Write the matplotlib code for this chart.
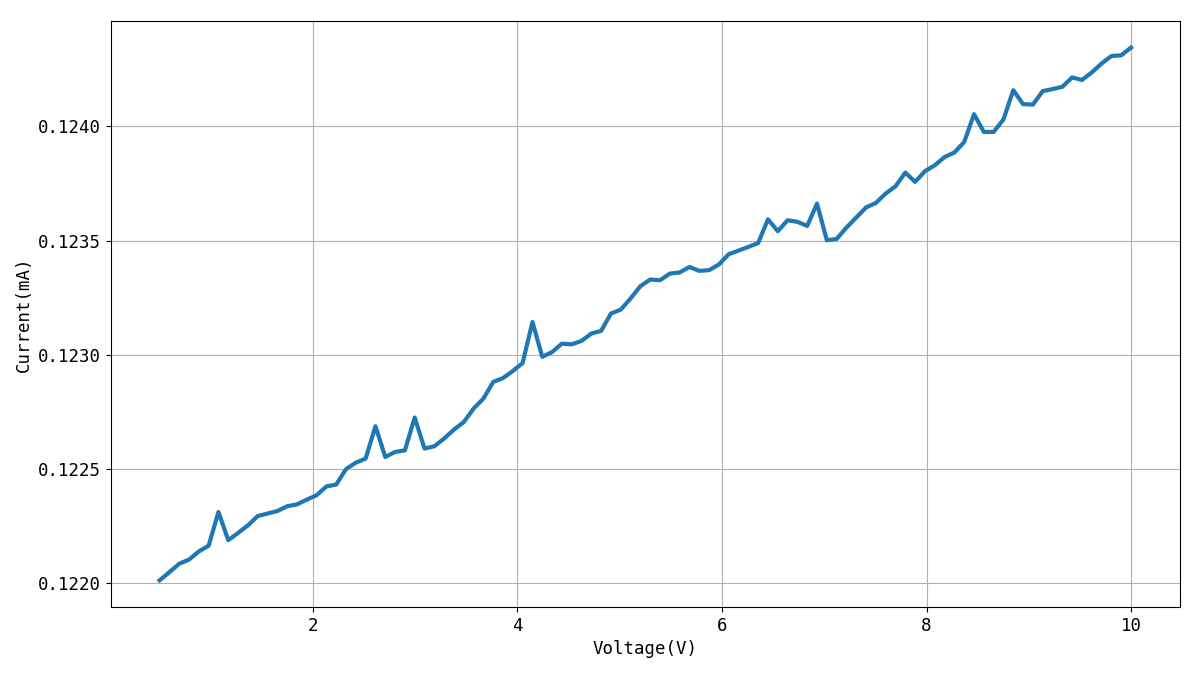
import numpy as np
import matplotlib
matplotlib.use("Agg")
import matplotlib.pyplot as plt
from matplotlib.ticker import FormatStrFormatter

plt.rcParams['font.family'] = ['DejaVu Sans Mono', 'Noto Sans CJK SC']

# 100 voltage steps from 0.5 V to 10 V
voltage = np.linspace(0.5, 10, 100)

# current readings (mA)
current = [
    0.122010, 0.122046, 0.122083, 0.122101, 0.122137, 0.122162, 0.122310, 0.122186, 0.122218, 0.122251,
    0.122292, 0.122303, 0.122314, 0.122335, 0.122343, 0.122364, 0.122383, 0.122422, 0.122430, 0.122498,
    0.122526, 0.122544, 0.122686, 0.122551, 0.122573, 0.122580, 0.122724, 0.122588, 0.122598, 0.122632,
    0.122671, 0.122704, 0.122763, 0.122807, 0.122880, 0.122897, 0.122928, 0.122963, 0.123143, 0.122990,
    0.123011, 0.123048, 0.123045, 0.123060, 0.123092, 0.123104, 0.123180, 0.123197, 0.123246, 0.123300,
    0.123329, 0.123326, 0.123355, 0.123360, 0.123384, 0.123367, 0.123370, 0.123395, 0.123440, 0.123456,
    0.123472, 0.123489, 0.123593, 0.123541, 0.123589, 0.123582, 0.123564, 0.123662, 0.123501, 0.123507,
    0.123557, 0.123601, 0.123645, 0.123665, 0.123706, 0.123738, 0.123798, 0.123757, 0.123804, 0.123830,
    0.123866, 0.123886, 0.123932, 0.124054, 0.123976, 0.123976, 0.124031, 0.124159, 0.124098, 0.124096,
    0.124155, 0.124164, 0.124174, 0.124215, 0.124204, 0.124237, 0.124276, 0.124309, 0.124312, 0.124346,
]

y_ticks = [0.1220, 0.1225, 0.1230, 0.1235, 0.1240]

fig, ax = plt.subplots(figsize=(12, 6.75), dpi=100)
fig.subplots_adjust(left=0.0925, right=0.983, top=0.969, bottom=0.1007)

ax.plot(voltage, current, color='#1f77b4', linewidth=3)
ax.grid(True)
ax.set_yticks(y_ticks)
ax.yaxis.set_major_formatter(FormatStrFormatter('%.4f'))
ax.tick_params(labelsize=12.5)
ax.set_xlabel('Voltage(V)', fontsize=12.5)
ax.set_ylabel('Current(mA)', fontsize=12.5)

fig.savefig('out.png', dpi=100)
